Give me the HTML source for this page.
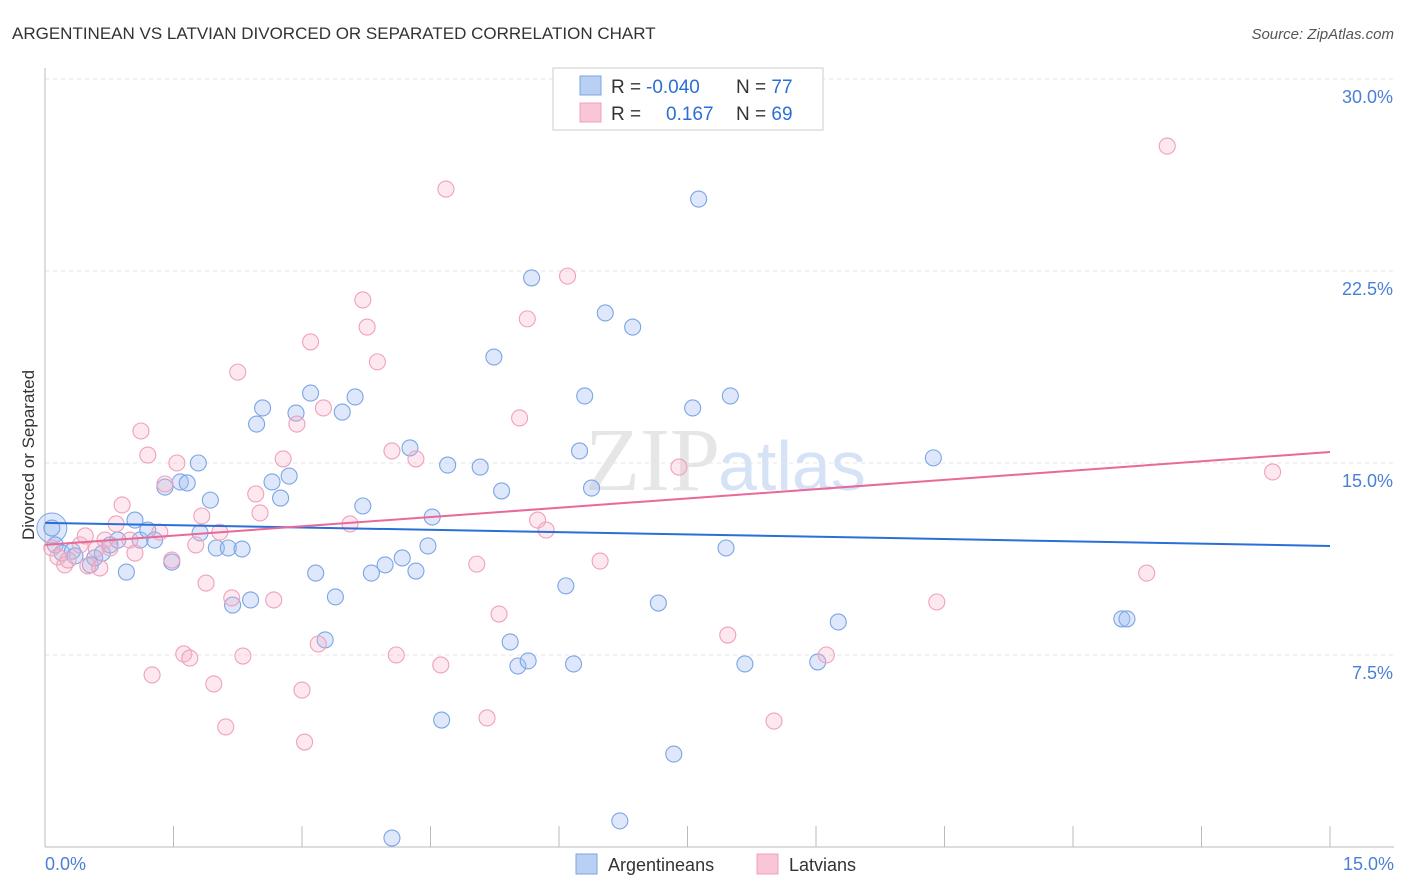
<!DOCTYPE html>
<html><head><meta charset="utf-8">
<style>
body{margin:0;background:#fff;font-family:"Liberation Sans",sans-serif;}
svg{display:block}
</style></head>
<body>
<svg id="chart" width="1406" height="892">
<text x="12" y="39" font-size="17" fill="#333">ARGENTINEAN VS LATVIAN DIVORCED OR SEPARATED CORRELATION CHART</text>
<text x="1394" y="39" font-size="15" fill="#555" font-style="italic" text-anchor="end">Source: ZipAtlas.com</text>
<text x="34" y="455" font-size="17" fill="#333" text-anchor="middle" transform="rotate(-90 34 455)">Divorced or Separated</text>
<text x="720" y="490" font-size="90" fill="#e6e6e6" font-family="Liberation Serif" text-anchor="end">ZIP</text>
<text x="718" y="490" font-size="70" fill="#d6e3f6">atlas</text>
<g id="grid"></g>
<g id="axes"></g>
<g id="pts"></g>
<g id="lines"></g>
<g>
<rect x="553" y="68" width="270" height="62" fill="#fff" stroke="#ccc"/>
<rect x="580" y="76" width="21" height="19" fill="#b9d0f3" stroke="#7aa5e6"/>
<rect x="580" y="103" width="21" height="19" fill="#f8c6d6" stroke="#f0a0bc"/>
<text y="93" font-size="19" fill="#333"><tspan x="611">R = </tspan><tspan x="646" fill="#2a6fd6">-0.040</tspan><tspan x="736">N = </tspan><tspan fill="#2a6fd6">77</tspan></text>
<text y="120" font-size="19" fill="#333"><tspan x="611">R = </tspan><tspan fill="#2a6fd6" x="666">0.167</tspan><tspan x="736">N = </tspan><tspan fill="#2a6fd6">69</tspan></text>
</g>
<g>
<rect x="576" y="854" width="21" height="20" fill="#b9d0f3" stroke="#7aa5e6"/>
<text x="608" y="871" font-size="18" fill="#333">Argentineans</text>
<rect x="757" y="854" width="21" height="20" fill="#f8c6d6" stroke="#f0a0bc"/>
<text x="789" y="871" font-size="18" fill="#333">Latvians</text>
</g>
</svg>
<script>
const blueX=[0.08,0.12,0.20,0.32,0.35,0.53,0.58,0.67,0.76,0.85,0.95,1.05,1.11,1.20,1.28,1.40,1.48,1.58,1.66,1.79,1.81,1.93,2.00,2.14,2.19,2.30,2.40,2.47,2.54,2.65,2.75,2.85,2.93,3.10,3.16,3.27,3.39,3.47,3.62,3.71,3.81,3.97,4.05,4.17,4.26,4.33,4.47,4.52,4.63,4.70,5.08,5.24,5.33,5.43,5.52,5.64,5.68,6.08,6.17,6.24,6.30,6.38,6.54,6.71,6.86,7.16,7.34,7.56,7.63,7.95,8.00,8.17,9.02,9.26,10.37,12.57,12.63];
const blueY=[12.46,11.80,11.48,11.56,11.37,11.02,11.29,11.48,11.80,11.99,10.74,12.77,11.99,12.38,11.99,14.06,11.13,14.26,14.22,15.00,12.27,13.55,11.68,11.68,9.45,11.64,9.65,16.52,17.15,14.26,13.63,14.49,16.95,17.73,10.70,8.09,9.77,16.99,17.58,13.32,10.70,11.02,0.35,11.29,15.59,10.78,11.76,12.89,4.96,14.92,14.84,19.14,13.91,8.01,7.07,7.27,22.23,10.20,7.15,15.47,17.62,14.02,20.86,1.02,20.31,9.53,3.63,17.15,25.31,11.68,17.62,7.15,7.23,8.79,15.20,8.91,8.91];
const pinkX=[0.08,0.15,0.23,0.27,0.41,0.47,0.50,0.60,0.64,0.70,0.76,0.83,0.90,0.99,1.05,1.12,1.20,1.25,1.34,1.40,1.48,1.54,1.62,1.69,1.76,1.83,1.88,1.97,2.04,2.11,2.18,2.25,2.31,2.46,2.51,2.67,2.78,2.94,3.00,3.03,3.10,3.19,3.25,3.56,3.71,3.76,3.88,4.05,4.10,4.33,4.62,4.68,5.04,5.16,5.30,5.54,5.63,5.75,5.85,6.10,6.48,7.40,7.97,8.51,9.12,10.41,12.86,13.10,14.33];
const pinkY=[11.68,11.33,11.02,11.21,11.80,12.15,10.98,11.64,10.90,11.99,11.68,12.62,13.36,11.99,11.48,16.25,15.31,6.72,12.30,14.18,11.21,15.00,7.54,7.38,11.80,12.93,10.31,6.37,12.30,4.69,9.73,18.55,7.46,13.79,13.05,9.65,15.16,16.52,6.13,4.10,19.73,7.93,17.15,12.62,21.37,20.31,18.95,15.47,7.50,15.16,7.11,25.70,11.05,5.04,9.10,16.76,20.63,12.77,12.38,22.30,11.17,14.84,8.28,4.92,7.50,9.57,10.70,27.38,14.65];
const blueTrend=[12.66,11.76];
const pinkTrend=[11.80,15.43];
const yTicks=[7.5,15,22.5,30];
const xTickCount=10;
const NS='http://www.w3.org/2000/svg';
const sx=v=>45+v*(1285/15);
const sy=v=>847-v*25.6;
function mk(tag,attrs,parent){const e=document.createElementNS(NS,tag);for(const k in attrs)e.setAttribute(k,attrs[k]);parent.appendChild(e);return e;}
const grid=document.getElementById('grid'),axes=document.getElementById('axes'),pts=document.getElementById('pts'),lines=document.getElementById('lines');
yTicks.forEach(t=>{
 const l=mk('line',{x1:45,x2:1394,y1:sy(t),y2:sy(t),stroke:'#e6e6e6','stroke-dasharray':'4,4'},grid);
 
 
 const tx=mk('text',{x:1393,y:sy(t)+24,'font-size':18,fill:'#4a7fd6','text-anchor':'end'},axes);
 tx.textContent=t.toFixed(1)+'%';
 
 
});
const ax=mk('line',{x1:45,x2:45,y1:68,y2:847,stroke:'#bbb'},axes);


const bx=mk('line',{x1:45,x2:1394,y1:847,y2:847,stroke:'#bbb'},axes);


for(let i=0;i<=xTickCount;i++){
 const v=i*15/xTickCount;
 const t=mk('line',{x1:sx(v),x2:sx(v),y1:826,y2:847,stroke:'#bbb'},axes);
 
 
}
[[0,'0.0%','start',45],[15,'15.0%','end',1394]].forEach(d=>{
 const t=mk('text',{x:d[3],y:870,'font-size':18,fill:'#4a7fd6','text-anchor':d[2]},axes);
 t.textContent=d[1];
 
 
});
const bigc=mk('circle',{cx:sx(0.08),cy:sy(12.46),r:15,fill:'rgba(160,190,240,0.35)',stroke:'#7aa5e6'},pts);


blueX.forEach((x,i)=>{
 const c=mk('circle',{cx:sx(x),cy:sy(blueY[i]),r:8,fill:'rgba(160,190,240,0.35)',stroke:'#7aa5e6','stroke-width':1.1},pts);
 
 
});
pinkX.forEach((x,i)=>{
 const c=mk('circle',{cx:sx(x),cy:sy(pinkY[i]),r:8,fill:'rgba(245,180,200,0.3)',stroke:'#f0a0bc','stroke-width':1.1},pts);
 
 
});
const bl=mk('line',{x1:sx(0),y1:sy(blueTrend[0]),x2:sx(15),y2:sy(blueTrend[1]),stroke:'#2a6fd6','stroke-width':2},lines);


const pl=mk('line',{x1:sx(0),y1:sy(pinkTrend[0]),x2:sx(15),y2:sy(pinkTrend[1]),stroke:'#e8699a','stroke-width':2},lines);


</script>
</body></html>
